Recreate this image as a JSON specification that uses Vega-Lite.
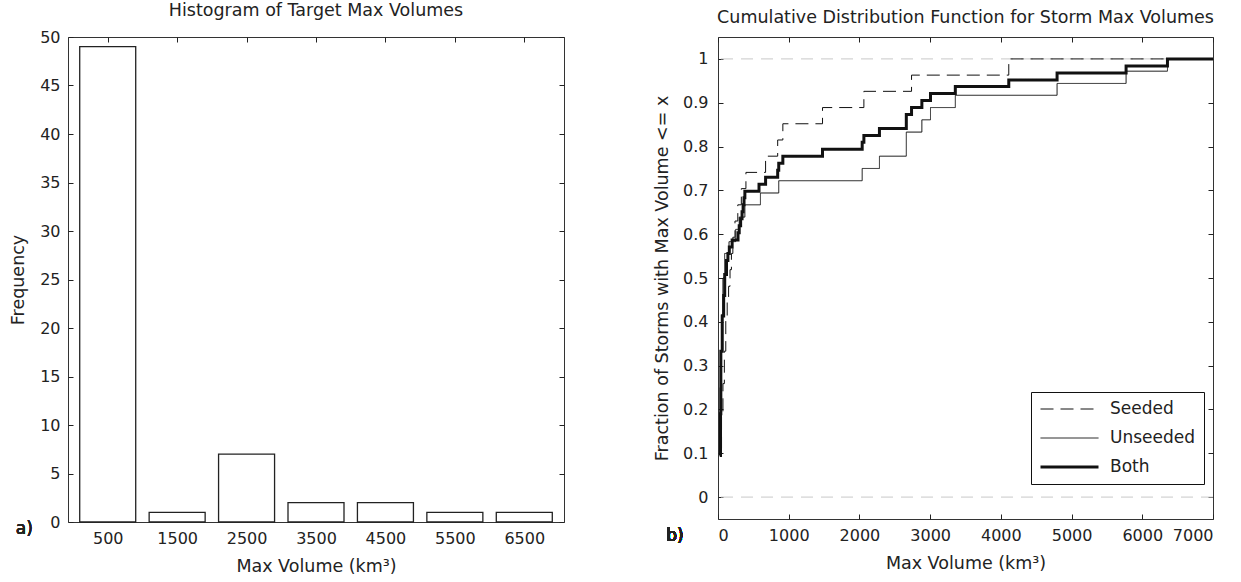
{
  "$schema": "https://vega.github.io/schema/vega-lite/v6.json",
  "background": "white",
  "padding": {"left": 9, "top": 1, "right": 5, "bottom": 5},
  "config": {
    "font": "DejaVu Sans",
    "view": {"stroke": "#333", "strokeWidth": 1},
    "axis": {
      "domain": false, "grid": false, "tickColor": "#222", "tickSize": -5, "tickWidth": 1,
      "labelFont": "DejaVu Sans", "labelFontSize": 16, "labelColor": "#222",
      "titleFont": "DejaVu Sans", "titleFontSize": 17.5, "titleFontWeight": "normal", "titleColor": "#222"
    },
    "title": {"font": "DejaVu Sans", "fontSize": 17.5, "fontWeight": "normal", "color": "#222", "offset": 10}
  },
  "resolve": {"legend": {"strokeDash": "independent", "strokeWidth": "independent"}},
  "spacing": 88,
  "hconcat": [
    {
      "width": 496, "height": 485,
      "title": "Histogram of Target Max Volumes",
      "data": {"values": [
        {"volume": 500, "count": 49},
        {"volume": 1500, "count": 1},
        {"volume": 2500, "count": 7},
        {"volume": 3500, "count": 2},
        {"volume": 4500, "count": 2},
        {"volume": 5500, "count": 1},
        {"volume": 6500, "count": 1}
      ]},
      "resolve": {"axis": {"x": "independent", "y": "independent"}},
      "layer": [
        {
          "mark": {"type": "bar", "width": 56, "fill": "white", "stroke": "#222", "strokeWidth": 1.3},
          "encoding": {
            "x": {"field": "volume", "type": "quantitative", "scale": {"domain": [0, 7000], "nice": false},
                  "axis": {"values": [500,1500,2500,3500,4500,5500,6500], "format": "d", "title": "Max Volume (km³)", "labelPadding": 13, "titlePadding": 11}},
            "y": {"field": "count", "type": "quantitative", "scale": {"domain": [0, 50], "nice": false},
                  "axis": {"values": [0,5,10,15,20,25,30,35,40,45,50], "title": "Frequency", "labelPadding": 13, "titlePadding": 12}}
          }
        },
        {
          "mark": {"type": "bar", "width": 56, "opacity": 0},
          "encoding": {
            "x": {"field": "volume", "type": "quantitative", "axis": {"orient": "top", "values": [500,1500,2500,3500,4500,5500,6500], "labels": false, "title": null}},
            "y": {"field": "count", "type": "quantitative", "axis": {"orient": "right", "values": [0,5,10,15,20,25,30,35,40,45,50], "labels": false, "title": null}}
          }
        },
        {
          "mark": {"type": "text", "text": "a)", "fontSize": 17, "font": "DejaVu Sans", "color": "#222"},
          "encoding": {"x": {"datum": -700, "type": "quantitative", "axis": null}, "y": {"datum": -0.75, "type": "quantitative", "axis": null}}
        }
      ]
    },
    {
      "width": 495, "height": 482,
      "title": "Cumulative Distribution Function for Storm Max Volumes",
      "data": {"values": [
        {"series": "Seeded", "volume": 30, "frac": 0.111},
        {"series": "Seeded", "volume": 50, "frac": 0.185},
        {"series": "Seeded", "volume": 70, "frac": 0.259},
        {"series": "Seeded", "volume": 90, "frac": 0.333},
        {"series": "Seeded", "volume": 110, "frac": 0.407},
        {"series": "Seeded", "volume": 130, "frac": 0.444},
        {"series": "Seeded", "volume": 150, "frac": 0.481},
        {"series": "Seeded", "volume": 170, "frac": 0.519},
        {"series": "Seeded", "volume": 190, "frac": 0.556},
        {"series": "Seeded", "volume": 210, "frac": 0.593},
        {"series": "Seeded", "volume": 240, "frac": 0.630},
        {"series": "Seeded", "volume": 280, "frac": 0.667},
        {"series": "Seeded", "volume": 330, "frac": 0.704},
        {"series": "Seeded", "volume": 395, "frac": 0.741},
        {"series": "Seeded", "volume": 673, "frac": 0.778},
        {"series": "Seeded", "volume": 844, "frac": 0.815},
        {"series": "Seeded", "volume": 917, "frac": 0.852},
        {"series": "Seeded", "volume": 1478, "frac": 0.889},
        {"series": "Seeded", "volume": 2063, "frac": 0.926},
        {"series": "Seeded", "volume": 2737, "frac": 0.963},
        {"series": "Seeded", "volume": 4112, "frac": 1.0},
        {"series": "Seeded", "volume": 7000, "frac": 1.0},
        {"series": "Unseeded", "volume": 20, "frac": 0.111},
        {"series": "Unseeded", "volume": 30, "frac": 0.25},
        {"series": "Unseeded", "volume": 40, "frac": 0.333},
        {"series": "Unseeded", "volume": 55, "frac": 0.417},
        {"series": "Unseeded", "volume": 70, "frac": 0.5},
        {"series": "Unseeded", "volume": 94, "frac": 0.556},
        {"series": "Unseeded", "volume": 156, "frac": 0.583},
        {"series": "Unseeded", "volume": 250, "frac": 0.611},
        {"series": "Unseeded", "volume": 300, "frac": 0.639},
        {"series": "Unseeded", "volume": 380, "frac": 0.667},
        {"series": "Unseeded", "volume": 600, "frac": 0.694},
        {"series": "Unseeded", "volume": 859, "frac": 0.722},
        {"series": "Unseeded", "volume": 2039, "frac": 0.75},
        {"series": "Unseeded", "volume": 2283, "frac": 0.778},
        {"series": "Unseeded", "volume": 2663, "frac": 0.833},
        {"series": "Unseeded", "volume": 2883, "frac": 0.861},
        {"series": "Unseeded", "volume": 3005, "frac": 0.889},
        {"series": "Unseeded", "volume": 3356, "frac": 0.917},
        {"series": "Unseeded", "volume": 4795, "frac": 0.944},
        {"series": "Unseeded", "volume": 5771, "frac": 0.972},
        {"series": "Unseeded", "volume": 6356, "frac": 1.0},
        {"series": "Unseeded", "volume": 7000, "frac": 1.0},
        {"series": "Both", "volume": 25, "frac": 0.095},
        {"series": "Both", "volume": 35, "frac": 0.19},
        {"series": "Both", "volume": 40, "frac": 0.333},
        {"series": "Both", "volume": 60, "frac": 0.413},
        {"series": "Both", "volume": 80, "frac": 0.460},
        {"series": "Both", "volume": 95, "frac": 0.508},
        {"series": "Both", "volume": 120, "frac": 0.540},
        {"series": "Both", "volume": 140, "frac": 0.556},
        {"series": "Both", "volume": 160, "frac": 0.571},
        {"series": "Both", "volume": 200, "frac": 0.587},
        {"series": "Both", "volume": 283, "frac": 0.603},
        {"series": "Both", "volume": 300, "frac": 0.619},
        {"series": "Both", "volume": 320, "frac": 0.635},
        {"series": "Both", "volume": 340, "frac": 0.651},
        {"series": "Both", "volume": 355, "frac": 0.667},
        {"series": "Both", "volume": 368, "frac": 0.683},
        {"series": "Both", "volume": 380, "frac": 0.698},
        {"series": "Both", "volume": 580, "frac": 0.714},
        {"series": "Both", "volume": 673, "frac": 0.730},
        {"series": "Both", "volume": 844, "frac": 0.746},
        {"series": "Both", "volume": 859, "frac": 0.762},
        {"series": "Both", "volume": 917, "frac": 0.778},
        {"series": "Both", "volume": 1478, "frac": 0.794},
        {"series": "Both", "volume": 2039, "frac": 0.810},
        {"series": "Both", "volume": 2063, "frac": 0.825},
        {"series": "Both", "volume": 2283, "frac": 0.841},
        {"series": "Both", "volume": 2663, "frac": 0.873},
        {"series": "Both", "volume": 2737, "frac": 0.889},
        {"series": "Both", "volume": 2883, "frac": 0.905},
        {"series": "Both", "volume": 3005, "frac": 0.921},
        {"series": "Both", "volume": 3356, "frac": 0.937},
        {"series": "Both", "volume": 4112, "frac": 0.952},
        {"series": "Both", "volume": 4795, "frac": 0.968},
        {"series": "Both", "volume": 5771, "frac": 0.984},
        {"series": "Both", "volume": 6356, "frac": 1.0},
        {"series": "Both", "volume": 7000, "frac": 1.0}
      ]},
      "resolve": {"axis": {"x": "independent", "y": "independent"}},
      "layer": [
        {
          "mark": {"type": "rule", "stroke": "#c8c8c8", "strokeWidth": 1, "strokeDash": [12, 8]},
          "data": {"values": [{"ref": 0}, {"ref": 1}]},
          "encoding": {"y": {"field": "ref", "type": "quantitative", "axis": null}}
        },
        {
          "mark": {"type": "line", "interpolate": "step-after", "stroke": "#111", "clip": true},
          "encoding": {
            "x": {"field": "volume", "type": "quantitative", "scale": {"domain": [0, 7000], "nice": false},
                  "axis": {"values": [0,1000,2000,3000,4000,5000,6000,7000], "format": "d", "title": "Max Volume (km³)", "labelPadding": 13, "titlePadding": 11}},
            "y": {"field": "frac", "type": "quantitative", "scale": {"domain": [-0.05, 1.05], "nice": false, "zero": false},
                  "axis": {"values": [0,0.1,0.2,0.3,0.4,0.5,0.6,0.7,0.8,0.9,1], "format": "~g", "title": "Fraction of Storms with Max Volume <= x", "labelPadding": 15, "titlePadding": 11}},
            "detail": {"field": "series"},
            "strokeDash": {"field": "series", "type": "nominal",
                           "scale": {"type": "ordinal", "domain": ["Seeded", "Unseeded", "Both"], "range": [[13, 7], [1, 0], [1, 0]]},
                           "legend": {"title": null, "orient": "none", "legendX": 313, "legendY": 355,
                                      "symbolType": "stroke", "symbolSize": 3364, "symbolStrokeColor": "#111",
                                      "clipHeight": 18, "rowPadding": 11, "labelOffset": 10,
                                      "labelFont": "DejaVu Sans", "labelFontSize": 17, "labelColor": "#222",
                                      "strokeColor": "#111", "fillColor": "white", "padding": 8}},
            "strokeWidth": {"field": "series", "type": "nominal",
                            "scale": {"type": "ordinal", "domain": ["Seeded", "Unseeded", "Both"], "range": [1, 1, 3]},
                            "legend": {"title": null, "orient": "none", "legendX": 313, "legendY": 355,
                                       "symbolType": "stroke", "symbolSize": 3364, "symbolStrokeColor": "#111",
                                       "clipHeight": 18, "rowPadding": 11, "labelOffset": 10,
                                       "labelFont": "DejaVu Sans", "labelFontSize": 17, "labelColor": "#222",
                                       "strokeColor": "#111", "fillColor": "white", "padding": 8}}
          }
        },
        {
          "mark": {"type": "point", "opacity": 0},
          "data": {"values": [{"volume": 0, "frac": 0}]},
          "encoding": {
            "x": {"field": "volume", "type": "quantitative", "axis": {"orient": "top", "values": [0,1000,2000,3000,4000,5000,6000,7000], "labels": false, "title": null}},
            "y": {"field": "frac", "type": "quantitative", "axis": {"orient": "right", "values": [0,0.1,0.2,0.3,0.4,0.5,0.6,0.7,0.8,0.9,1], "labels": false, "title": null}}
          }
        },
        {
          "mark": {"type": "text", "text": "b)", "fontSize": 17, "font": "DejaVu Sans", "color": "#222"},
          "encoding": {"x": {"datum": -610, "type": "quantitative", "axis": null}, "y": {"datum": -0.089, "type": "quantitative", "axis": null}}
        }
      ]
    }
  ]
}
